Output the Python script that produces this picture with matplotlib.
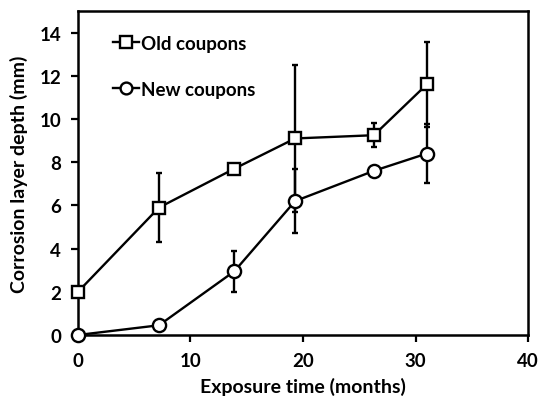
import matplotlib
matplotlib.use("Agg")
import matplotlib.pyplot as plt
from matplotlib.lines import Line2D

plt.rcParams['font.family'] = ['Lato', 'DejaVu Sans']
plt.rcParams['font.weight'] = 'bold'

# Exposure times (months) and corrosion layer depths (mm)
old_time = [0, 7.2, 13.9, 19.3, 26.3, 31.0]
old_depth = [2.0, 5.9, 7.7, 9.1, 9.25, 11.6]
old_err = [0, 1.6, 0, 3.4, 0.55, 1.95]

new_time = [0, 7.2, 13.9, 19.3, 26.3, 31.0]
new_depth = [0.0, 0.45, 2.95, 6.2, 7.6, 8.4]
new_err = [0, 0, 0.95, 1.5, 0, 1.37]

fig = plt.figure(figsize=(5.4, 4.02), dpi=100)
ax = fig.add_axes([0.1444, 0.1642, 0.8334, 0.8059])

style = dict(color='black', lw=1.7, markerfacecolor='white',
             markeredgecolor='black', markeredgewidth=1.7)
err_style = dict(ecolor='black', elinewidth=1.7, capsize=2.5, capthick=1.7)

series = [
    (old_time, old_depth, old_err, 's', 9, 'Old coupons'),
    (new_time, new_depth, new_err, 'o', 9.5, 'New coupons'),
]
handles = []
for t, d, e, m, ms, lab in series:
    cont = ax.errorbar(t, d, yerr=e, marker=m, markersize=ms, zorder=3,
                       **style, **err_style)
    for art in cont.lines[0:1] + tuple(cont.lines[1]) + tuple(cont.lines[2]):
        art.set_clip_on(False)
    handles.append(Line2D([], [], marker=m, markersize=ms - 1, label=lab, **style))

ax.set_xlim(0, 40)
ax.set_ylim(0, 15)
ax.set_xticks([0, 10, 20, 30, 40])
ax.set_yticks([0, 2, 4, 6, 8, 10, 12, 14])

for s in ax.spines.values():
    s.set_linewidth(1.8)
ax.tick_params(direction='out', length=5, width=1.6, labelsize=13.5, pad=7)
for lab in ax.get_xticklabels() + ax.get_yticklabels():
    lab.set_fontweight('bold')

ax.set_xlabel('Exposure time (months)', fontsize=14, fontweight='bold', labelpad=6)
ax.set_ylabel('Corrosion layer depth (mm)', fontsize=14, fontweight='bold', labelpad=8)

leg = ax.legend(handles=handles, loc='upper left', frameon=False, fontsize=13.5,
                handlelength=1.35, handletextpad=0.12, labelspacing=1.55,
                borderaxespad=0.0, bbox_to_anchor=(0.062, 0.95))
for t in leg.get_texts():
    t.set_fontweight('bold')

fig.savefig('out.png', dpi=100)
